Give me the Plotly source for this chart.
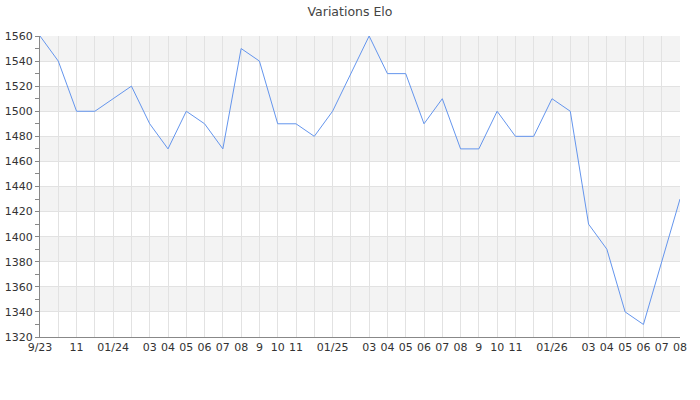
import plotly.graph_objects as go

months = ["2023-09", "2023-10", "2023-11", "2023-12", "2024-01", "2024-02", "2024-03", "2024-04",
          "2024-05", "2024-06", "2024-07", "2024-08", "2024-09", "2024-10", "2024-11", "2024-12",
          "2025-01", "2025-02", "2025-03", "2025-04", "2025-05", "2025-06", "2025-07", "2025-08",
          "2025-09", "2025-10", "2025-11", "2025-12", "2026-01", "2026-02", "2026-03", "2026-04",
          "2026-05", "2026-06", "2026-07", "2026-08"]
elo = [1560, 1540, 1500, 1500, 1510, 1520, 1490, 1470, 1500, 1490, 1470, 1550,
       1540, 1490, 1490, 1480, 1500, 1530, 1560, 1530, 1530, 1490, 1510, 1470,
       1470, 1500, 1480, 1480, 1510, 1500, 1410, 1390, 1340, 1330, 1380, 1430]
tick_labels = ["9/23", "", "11", "", "01/24", "", "03", "04", "05", "06", "07", "08",
               "9", "10", "11", "", "01/25", "", "03", "04", "05", "06", "07", "08",
               "9", "10", "11", "", "01/26", "", "03", "04", "05", "06", "07", "08"]
y_min, y_max, y_step = 1320, 1560, 20

x = list(range(len(months)))

fig = go.Figure()
fig.add_trace(go.Scatter(x=x, y=elo, mode="lines",
                         line=dict(color="#6495ED", width=1), hoverinfo="skip"))

shapes = []
for i, lo in enumerate(range(y_max - y_step, y_min - 1, -y_step)):
    if i % 2 == 0:
        shapes.append(dict(type="rect", xref="paper", yref="y", x0=0, x1=1,
                           y0=lo, y1=lo + y_step, fillcolor="#f3f3f3",
                           line=dict(width=0), layer="below"))

fig.update_layout(
    width=700, height=400,
    margin=dict(l=40, r=20, t=36, b=63),
    paper_bgcolor="white", plot_bgcolor="white",
    showlegend=False,
    shapes=shapes,
    title=dict(text="Variations Elo", x=0.5, xanchor="center", y=0.97, yanchor="middle",
               font=dict(family="DejaVu Sans", size=12.5, color="#444")),
    font=dict(family="DejaVu Sans", size=11, color="#444"),
    xaxis=dict(range=[0, len(months) - 1], tickmode="array", tickvals=x, ticktext=tick_labels,
               showgrid=True, gridcolor="#e2e2e2", gridwidth=1, zeroline=False,
               showline=True, linecolor="#888", linewidth=1, ticks="", automargin=False,
               tickfont=dict(size=11, color="#333"), ticklen=0),
    yaxis=dict(range=[y_min, y_max], tickmode="linear", tick0=y_min, dtick=y_step,
               showgrid=True, gridcolor="#e2e2e2", gridwidth=1, zeroline=False,
               showline=True, linecolor="#888", linewidth=1, automargin=False,
               ticks="outside", ticklen=4, tickcolor="#888",
               minor=dict(dtick=10, ticks="outside", ticklen=4, tickcolor="#888", showgrid=False),
               tickfont=dict(size=11, color="#333")),
)

fig.write_html("out.html", config={"displayModeBar": False, "staticPlot": True},
               post_script="document.body.style.margin='0';")
